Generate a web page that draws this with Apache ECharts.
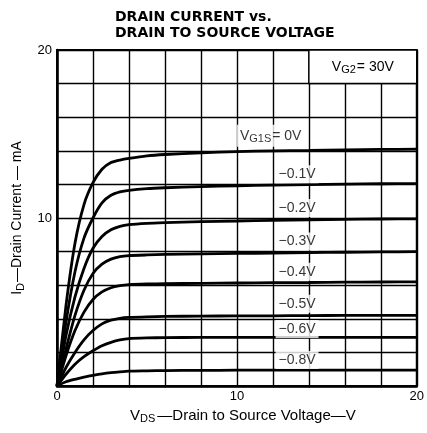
<!DOCTYPE html>
<html>
<head>
<meta charset="utf-8">
<script src="https://cdn.jsdelivr.net/npm/echarts@6/dist/echarts.min.js"></script>
<style>
  html, body { margin: 0; padding: 0; background: #fff; }
  #chart { width: 427px; height: 433px; }
</style>
</head>
<body>
<div id="chart"></div>
<script>
// drain-source voltage samples (V)
const vds = [0, 0.5, 1, 1.5, 2, 2.5, 3, 3.5, 4, 5, 6, 8, 10, 12, 14, 16, 18, 20];

// drain current (mA) for each gate-1 bias
const id0V  = [0, 4.8, 8.5, 10.8, 12.1, 12.9, 13.3, 13.45, 13.55, 13.7, 13.78, 13.88, 13.95, 14.0, 14.03, 14.06, 14.08, 14.1];
const id01V = [0, 3.8, 6.8, 8.8, 10.0, 10.9, 11.35, 11.55, 11.65, 11.75, 11.8, 11.87, 11.92, 11.96, 11.99, 12.02, 12.04, 12.05];
const id02V = [0, 3.0, 5.3, 7.0, 8.2, 8.9, 9.3, 9.5, 9.6, 9.68, 9.72, 9.78, 9.82, 9.86, 9.89, 9.92, 9.94, 9.95];
const id03V = [0, 2.2, 4.2, 5.7, 6.7, 7.25, 7.55, 7.7, 7.76, 7.8, 7.83, 7.86, 7.89, 7.91, 7.94, 7.96, 7.98, 8.0];
const id04V = [0, 1.8, 3.3, 4.4, 5.15, 5.6, 5.85, 5.97, 6.03, 6.07, 6.09, 6.11, 6.13, 6.15, 6.16, 6.18, 6.19, 6.2];
const id05V = [0, 1.1, 2.0, 2.75, 3.3, 3.7, 3.92, 4.03, 4.08, 4.12, 4.14, 4.16, 4.17, 4.18, 4.19, 4.2, 4.2, 4.2];
const id06V = [0, 0.7, 1.3, 1.75, 2.1, 2.4, 2.6, 2.74, 2.82, 2.86, 2.88, 2.89, 2.9, 2.9, 2.9, 2.9, 2.9, 2.9];
const id08V = [0, 0.25, 0.4, 0.53, 0.63, 0.72, 0.79, 0.84, 0.88, 0.9, 0.92, 0.93, 0.94, 0.94, 0.95, 0.95, 0.95, 0.95];

const curves = [id0V, id01V, id02V, id03V, id04V, id05V, id06V, id08V];

// curve labels and where they sit (V, mA)
const curveLabels = ['{v|V}{s|G1S}{v|= 0V}', '−0.1V', '−0.2V', '−0.3V', '−0.4V', '−0.5V', '−0.6V', '−0.8V'];
const labelX = [10.0, 12.15, 12.15, 12.15, 12.15, 12.15, 12.15, 12.15];
const labelY = [14.9, 12.6, 10.6, 8.6, 6.8, 4.9, 3.4, 1.55];

const xTickLabels = [0, 10, 20];
const yTickLabels = [10, 20];

const chart = echarts.init(document.getElementById('chart'));

const font = 'Liberation Sans';
const richSub = {
    v: { fontSize: 14, fontFamily: font, color: '#000' },
    s: { fontSize: 11, fontFamily: font, color: '#000', padding: [7, 1, 0, 0] }
};
const richName = {
    v: { fontSize: 15, fontFamily: font, color: '#000' },
    s: { fontSize: 11, fontFamily: font, color: '#000', padding: [7, 2, 0, 0] }
};

const series = curves.map(function (c) {
    return {
        type: 'line',
        data: vds.map(function (x, i) { return [x, c[i]]; }),
        symbol: 'none',
        smooth: 0.2,
        lineStyle: { color: '#000', width: 2.8 },
        z: 3
    };
});

// box for the VG2 condition
series.push({
    type: 'line',
    data: [],
    markArea: {
        silent: true,
        itemStyle: { color: '#fff', borderColor: '#000', borderWidth: 1.5 },
        label: {
            show: true,
            position: 'inside',
            formatter: '{v|V}{s|G2}{v|= 30V}',
            rich: richSub
        },
        data: [[{ xAxis: 14, yAxis: 18 }, { xAxis: 20, yAxis: 20 }]]
    },
    z: 2
});

// curve labels
series.push({
    type: 'scatter',
    symbolSize: 0,
    data: labelX.map(function (x, i) { return [x, labelY[i]]; }),
    label: {
        show: true,
        position: 'right',
        distance: 0,
        backgroundColor: '#fff',
        padding: [2, 3, 2, 3],
        color: '#000',
        fontSize: 14,
        fontFamily: font,
        formatter: function (p) { return curveLabels[p.dataIndex]; },
        rich: richSub
    },
    z: 5
});

const option = {
    animation: false,
    backgroundColor: '#fff',
    title: {
        text: 'DRAIN CURRENT vs.\nDRAIN TO SOURCE VOLTAGE',
        left: 110,
        top: 4,
        textStyle: {
            fontFamily: 'DejaVu Sans',
            fontWeight: 'bold',
            fontSize: 14,
            lineHeight: 16,
            color: '#000'
        }
    },
    grid: {
        left: 57,
        right: 7,
        top: 50,
        bottom: 47,
        show: true,
        borderColor: '#000',
        borderWidth: 2
    },
    xAxis: {
        type: 'value',
        min: 0,
        max: 20,
        interval: 2,
        name: '{v|V}{s|DS}{v|—Drain to Source Voltage—V}',
        nameLocation: 'middle',
        nameGap: 20,
        nameTextStyle: { rich: richName, padding: [0, 0, 0, 12] },
        axisLine: { lineStyle: { color: '#000', width: 2.5 } },
        axisTick: { show: false },
        axisLabel: {
            color: '#000',
            fontSize: 13,
            fontFamily: font,
            margin: 4,
            formatter: function (v) { return xTickLabels.indexOf(v) >= 0 ? String(v) : ''; }
        },
        splitLine: { lineStyle: { color: '#000', width: 1.4 } }
    },
    yAxis: {
        type: 'value',
        min: 0,
        max: 20,
        interval: 2,
        name: '{v|I}{s|D}{v|—Drain Current — mA}',
        nameLocation: 'middle',
        nameGap: 28,
        nameTextStyle: { rich: richSub },
        axisLine: { show: true, lineStyle: { color: '#000', width: 2.5 } },
        axisTick: { show: false },
        axisLabel: {
            color: '#000',
            fontSize: 13,
            fontFamily: font,
            margin: 5,
            formatter: function (v) { return yTickLabels.indexOf(v) >= 0 ? String(v) : ''; }
        },
        splitLine: { lineStyle: { color: '#000', width: 1.4 } }
    },
    series: series
};

chart.setOption(option);

window.addEventListener('resize', function () {
    chart.resize();
});
</script>
</body>
</html>
